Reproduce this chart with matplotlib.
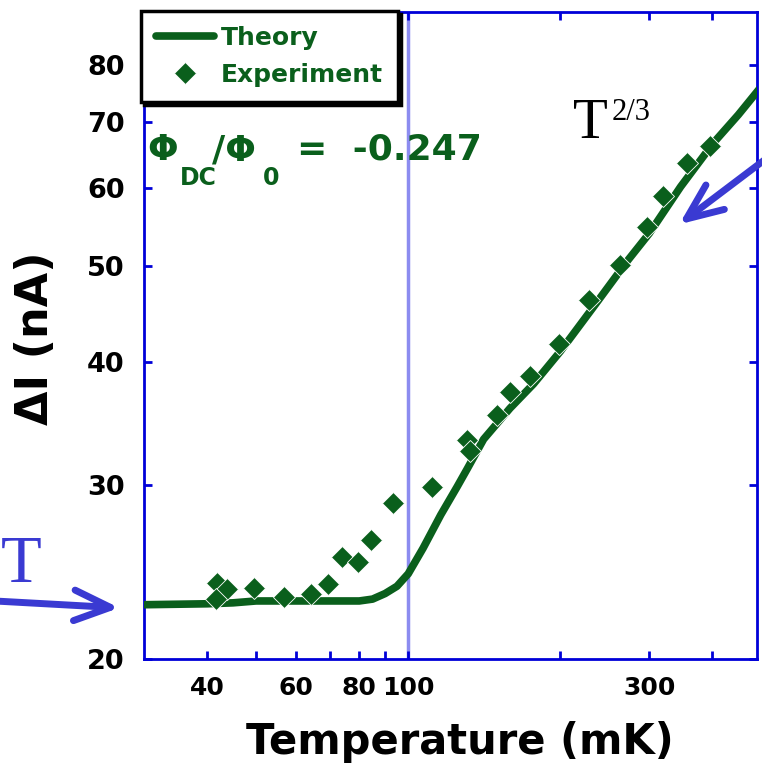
import matplotlib.pyplot as plt
from matplotlib.ticker import FixedLocator, NullFormatter, FixedFormatter

# data
theory_T = [30, 40, 45, 50, 60, 70, 80, 85, 90, 95, 100, 107, 116, 125, 131, 141,
            159, 177, 200, 232, 272, 300, 346, 402, 450, 495]
theory_I = [22.7, 22.75, 22.8, 22.9, 22.9, 22.9, 22.9, 23.0, 23.3, 23.7, 24.4, 25.9,
            28.0, 29.9, 31.2, 33.4, 35.9, 38.0, 41.0, 45.4, 50.7, 54.0, 60.2, 66.7,
            71.2, 75.6]
exp_T = [41.8, 43.8, 41.7, 49.6, 56.9, 64.2, 69.3, 74.1, 79.5, 84.4, 93.3, 111.4,
         130.7, 132.7, 149.8, 159, 174.4, 198.5, 227.6, 263, 297, 320, 356, 396]
exp_I = [23.86, 23.56, 23.03, 23.62, 23.1, 23.3, 23.8, 25.4, 25.1, 26.4, 28.8, 29.9,
         33.3, 32.5, 35.3, 37.3, 38.7, 41.7, 46.2, 50.1, 54.8, 58.9, 63.7, 66.2]

x_ticks = [40, 50, 60, 70, 80, 90, 100, 200, 300, 400]
x_labels = ['40', '', '60', '', '80', '', '100', '', '300', '']
y_ticks = [20, 30, 40, 50, 60, 70, 80]

green = '#0a5f1c'
blue = '#0000d8'
arrow_blue = '#3a3ad2'

W, H = 762, 770
fig = plt.figure(figsize=(W / 100, H / 100), dpi=100)
ax = fig.add_axes([144 / W, 1 - 659 / H, (757 - 144) / W, (659 - 12) / H])
ax.set_xscale('log')
ax.set_yscale('log')
ax.set_xlim(30, 490)
ax.set_ylim(20, 90.5)

ax.axvline(100, color='#8c8cf0', lw=2.5, zorder=1)
ax.plot(theory_T, theory_I, color=green, lw=5.5, label='Theory', zorder=3,
        solid_capstyle='round')
ax.plot(exp_T, exp_I, 'D', color=green, ms=11.5, mec='white', mew=0.6,
        label='Experiment', zorder=4)

# ticks
ax.xaxis.set_major_locator(FixedLocator(x_ticks))
ax.xaxis.set_major_formatter(FixedFormatter(x_labels))
ax.xaxis.set_minor_locator(FixedLocator([]))
ax.xaxis.set_minor_formatter(NullFormatter())
ax.yaxis.set_major_locator(FixedLocator(y_ticks))
ax.yaxis.set_major_formatter(FixedFormatter([str(v) for v in y_ticks]))
ax.yaxis.set_minor_locator(FixedLocator([]))
ax.yaxis.set_minor_formatter(NullFormatter())
ax.tick_params(direction='in', length=6, width=2, color=blue, top=True, right=True,
               labelsize=18, pad=12)
ax.tick_params(axis='y', labelsize=19.5, pad=14)
for lab in ax.get_xticklabels() + ax.get_yticklabels():
    lab.set_fontweight('bold')
for sp in ax.spines.values():
    sp.set_color(blue)
    sp.set_linewidth(2)

leg = ax.legend(loc='upper left', bbox_to_anchor=(141 / W, 1 - 11 / H),
                bbox_transform=fig.transFigure, borderaxespad=0, numpoints=1,
                handlelength=2.3, handletextpad=0.3, labelspacing=0.52,
                borderpad=0.6, fancybox=False, framealpha=1,
                prop={'weight': 'bold', 'size': 18},
                shadow={'color': 'black', 'alpha': 1})
leg.get_frame().set_edgecolor('black')
leg.get_frame().set_linewidth(2.5)
for t in leg.get_texts():
    t.set_color(green)
leg.set_zorder(10)


def px(x, y):
    return x / W, 1 - y / H


# phase label
kw = dict(color=green, fontweight='bold', va='baseline', ha='left')
fig.text(*px(147, 160), 'Φ', fontsize=26, **kw)
fig.text(*px(180, 185), 'DC', fontsize=17, **kw)
fig.text(*px(212, 160), '/Φ', fontsize=26, **kw)
fig.text(*px(263, 185), '0', fontsize=17, **kw)
fig.text(*px(297, 160), '=  -0.247', fontsize=26, **kw)

# power laws
fig.text(*px(573, 138), 'T', fontsize=41, family='Liberation Serif',
         va='baseline', ha='left')
fig.text(*px(612, 120), '2/3', fontsize=22, family='Liberation Serif',
         va='baseline', ha='left')
fig.text(*px(1, 582), 'T', fontsize=48, family='Liberation Serif', color=arrow_blue,
         va='baseline', ha='left')

arrow = dict(arrowstyle='->,head_length=1.3,head_width=0.55', color=arrow_blue,
             lw=5, mutation_scale=20, capstyle='round', joinstyle='round')
ax.annotate('', xy=(122, H - 608), xycoords='figure pixels',
            xytext=(-5, H - 601), textcoords='figure pixels',
            arrowprops=arrow, annotation_clip=False)
ax.annotate('', xy=(677, H - 226), xycoords='figure pixels',
            xytext=(775, H - 152), textcoords='figure pixels',
            arrowprops=arrow, annotation_clip=False)

fig.text(*px(36, 338), 'ΔI (nA)', fontsize=32, fontweight='bold', rotation=90,
         ha='center', va='center')
fig.text(*px(460, 742), 'Temperature (mK)', fontsize=30, fontweight='bold',
         ha='center', va='center')

fig.savefig('out.png', dpi=100)
